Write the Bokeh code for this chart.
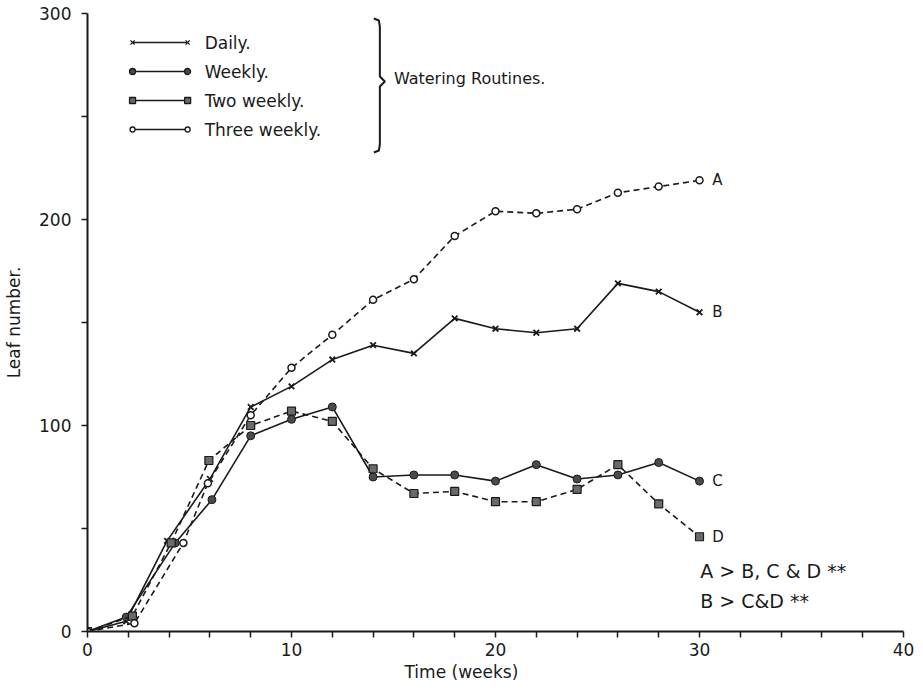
from bokeh.plotting import figure
from bokeh.models import Range1d, FixedTicker, Title
from bokeh.embed import file_html
from bokeh.resources import INLINE
from bokeh.core.properties import value

# ---------------- data ----------------
daily_weeks = [0, 1.9, 3.9, 6.0, 8, 10, 12, 14, 16, 18, 20, 22, 24, 26, 28, 30]
daily_leaves = [0, 5, 44, 74, 109, 119, 132, 139, 135, 152, 147, 145, 147, 169, 165, 155]

weekly_weeks = [0, 1.9, 4.3, 6.1, 8, 10, 12, 14, 16, 18, 20, 22, 24, 26, 28, 30]
weekly_leaves = [0, 7, 43, 64, 95, 103, 109, 75, 76, 76, 73, 81, 74, 76, 82, 73]

two_weekly_weeks = [0, 2.2, 4.1, 5.95, 8, 10, 12, 14, 16, 18, 20, 22, 24, 26, 28, 30]
two_weekly_leaves = [0, 7.5, 43, 83, 100, 107, 102, 79, 67, 68, 63, 63, 69, 81, 62, 46]

three_weekly_weeks = [0, 2.3, 4.7, 5.9, 8, 10, 12, 14, 16, 18, 20, 22, 24, 26, 28, 30]
three_weekly_leaves = [0, 4, 43, 72, 105, 128, 144, 161, 171, 192, 204, 203, 205, 213, 216, 219]

series_names = ["Daily.", "Weekly.", "Two weekly.", "Three weekly."]
curve_letters = ["B", "C", "D", "A"]
x_ticks = [0, 10, 20, 30, 40]
x_minor = [2, 4, 6, 8, 12, 14, 16, 18, 22, 24, 26, 28, 32, 34, 36, 38]
y_ticks = [0, 100, 200, 300]
y_minor = [50, 150, 250]
notes = ["A > B, C & D **", "B > C&D **"]

FONT = "DejaVu Sans"
INK = "#1a1a1a"

p = figure(width=923, height=693, output_backend="svg", toolbar_location=None,
           x_range=Range1d(0, 40), y_range=Range1d(0, 300),
           min_border_left=87, min_border_right=20, min_border_top=13,
           min_border_bottom=62, outline_line_color=None,
           background_fill_color="white", border_fill_color="white")
p.grid.visible = False

for ax in (p.xaxis[0], p.yaxis[0]):
    ax.axis_line_color = INK
    ax.axis_line_width = 2
    ax.major_tick_line_color = INK
    ax.minor_tick_line_color = INK
    ax.major_tick_line_width = 1.5
    ax.minor_tick_line_width = 1.5
    ax.major_tick_out = 6
    ax.major_tick_in = 0
    ax.minor_tick_out = 6
    ax.minor_tick_in = 0
    ax.major_label_text_font = FONT
    ax.major_label_text_font_size = "17px"
    ax.major_label_text_color = INK

p.xaxis.ticker = FixedTicker(ticks=x_ticks, minor_ticks=x_minor)
p.yaxis.ticker = FixedTicker(ticks=y_ticks, minor_ticks=y_minor)
p.xaxis.major_label_standoff = 5
p.yaxis.major_label_standoff = 10
p.yaxis.axis_label = "Leaf number."
p.yaxis.axis_label_text_font = FONT
p.yaxis.axis_label_text_font_size = "17px"
p.yaxis.axis_label_text_font_style = "normal"
p.yaxis.axis_label_text_color = INK
p.yaxis.axis_label_standoff = 12

# pixel <-> data helpers for layout of annotations
X0, XPX = 88.0, 20.375
Y0, YPX = 631.0, 2.06
def dx(px):
    return (px - X0) / XPX
def dy(py):
    return (Y0 - py) / YPX

# ---------------- series ----------------
lw = 1.6
p.line(daily_weeks, daily_leaves, line_color=INK, line_width=lw)
p.scatter(daily_weeks, daily_leaves, marker="x", size=8, line_color=INK, line_width=1.8)

p.line(weekly_weeks, weekly_leaves, line_color=INK, line_width=lw)
p.scatter(weekly_weeks, weekly_leaves, marker="circle", size=8, fill_color="#4a4a4a",
          line_color=INK, line_width=1)

p.line(two_weekly_weeks, two_weekly_leaves, line_color=INK, line_width=lw, line_dash="6 4")
p.scatter(two_weekly_weeks, two_weekly_leaves, marker="square", size=8, fill_color="#6a6a6a",
          line_color=INK, line_width=1.2)

p.line(three_weekly_weeks, three_weekly_leaves, line_color=INK, line_width=lw, line_dash="6 4")
p.scatter(three_weekly_weeks, three_weekly_leaves, marker="circle", size=7, fill_color="white",
          line_color=INK, line_width=1.5)

# curve letters
last_vals = [daily_leaves[-1], weekly_leaves[-1], two_weekly_leaves[-1], three_weekly_leaves[-1]]
p.text([dx(712)] * 4, last_vals, text=curve_letters, text_font=value(FONT),
       text_font_size="15px", text_color=INK, text_baseline="middle", text_align="left")

# ---------------- hand-drawn style legend ----------------
rows_py = [42, 71, 100, 129]
lx0, lx1, tx = dx(133), dx(188), dx(205)
markers = [("x", INK, 6), ("circle", "#4a4a4a", 6), ("square", "#6a6a6a", 6), ("circle", "white", 5)]
for py, name, (mk, fc, sz) in zip(rows_py, series_names, markers):
    yy = dy(py)
    p.line([lx0, lx1], [yy, yy], line_color=INK, line_width=1.4)
    p.scatter([lx0, lx1], [yy, yy], marker=mk, size=sz, fill_color=fc, line_color=INK, line_width=1.3)
    p.text([tx], [yy], text=[name], text_font=value(FONT), text_font_size="17px",
           text_color=INK, text_baseline="middle")

# brace
bx = 380
brace_x = [dx(bx - 6), dx(bx - 1), dx(bx), dx(bx), dx(bx + 5), dx(bx), dx(bx), dx(bx - 1), dx(bx - 6)]
brace_y = [dy(18), dy(20), dy(26), dy(76), dy(81), dy(86), dy(144), dy(150), dy(152)]
p.line(brace_x, brace_y, line_color=INK, line_width=2)
p.text([dx(394)], [dy(78)], text=["Watering Routines."], text_font=value(FONT),
       text_font_size="16px", text_color=INK, text_baseline="middle")

# significance notes
p.text([dx(700)] * 2, [dy(570), dy(600)], text=notes, text_font=value(FONT),
       text_font_size="19px", text_color=INK, text_baseline="middle")

# x-axis title (sits left of centre in the reference)
p.add_layout(Title(text="Time (weeks)", align="left", offset=317, text_font=FONT,
                   text_font_size="17px", text_font_style="normal", text_color=INK,
                   standoff=2), "below")

open("out.html", "w").write(file_html(p, INLINE))
